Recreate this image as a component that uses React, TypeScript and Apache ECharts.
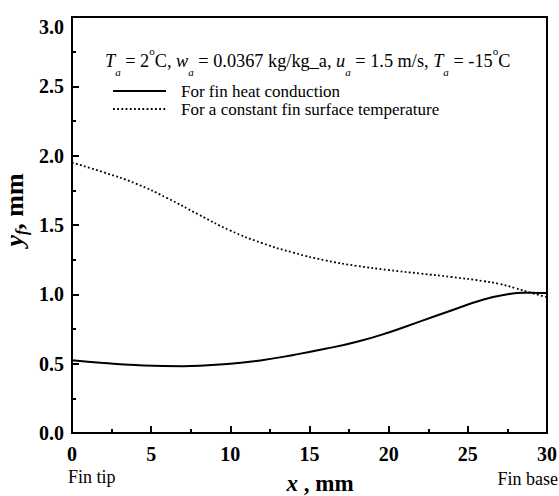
import React, { useEffect, useRef } from "react";
import * as echarts from "echarts";

const SERIF = "Liberation Serif";

const seriesNames = ["For fin heat conduction", "For a constant fin surface temperature"];

const finHeatX = [0, 2, 4, 7, 10, 12, 14, 16, 18, 20, 22, 24, 26, 27.5, 28.5, 29.5, 30];
const finHeatY = [0.525, 0.505, 0.49, 0.482, 0.5, 0.525, 0.563, 0.607, 0.658, 0.725, 0.805, 0.885, 0.963, 1.0, 1.012, 1.01, 1.01];

const constTempX = [0, 2, 4, 6, 8, 10, 12, 14, 16, 18, 20, 22, 24, 26, 27, 28, 29, 30];
const constTempY = [1.95, 1.88, 1.8, 1.695, 1.575, 1.46, 1.37, 1.3, 1.245, 1.205, 1.175, 1.15, 1.125, 1.095, 1.075, 1.045, 1.01, 0.98];

const xMin = 0, xMax = 30, xStep = 5;
const yMin = 0, yMax = 3, yStep = 0.5;

const annotationRich =
  "{ti|T}{sub|a}{n| = 2}{sup|o}{n|C, }{ti|w}{sub|a}{n| = 0.0367 kg/kg_a, }{ti|u}{sub|a}{n| = 1.5 m/s, }{ti|T}{sub|a}{n| = -15}{sup|o}{n|C}";

export default function App() {
  const ref = useRef<HTMLDivElement>(null);
  useEffect(() => {
    if (!ref.current) return;
    const chart = echarts.init(ref.current, null, { renderer: "svg" });
    const zip = (xs: number[], ys: number[]) => xs.map((x, i) => [x, ys[i]]);
    const axisLabelStyle = { fontFamily: SERIF, fontWeight: "bold" as const, fontSize: 20, color: "#000" };
    chart.setOption({
      animation: false,
      backgroundColor: "#fff",
      textStyle: { fontFamily: SERIF },
      grid: { left: 72, right: 12, top: 17, bottom: 63, show: true, borderColor: "#000", borderWidth: 2, outerBoundsMode: "none" },
      legend: {
        left: 107,
        top: 77,
        orient: "vertical",
        itemWidth: 53,
        itemHeight: 14,
        itemGap: 0,
        data: seriesNames,
        itemStyle: { opacity: 0 },
        textStyle: { fontFamily: SERIF, fontSize: 17, lineHeight: 18, color: "#000", padding: [0, 0, 0, 10] },
      },
      xAxis: {
        type: "value",
        min: xMin,
        max: xMax,
        interval: xStep,
        axisLine: { show: true, lineStyle: { color: "#000", width: 2 } },
        axisTick: { show: true, inside: true, length: 7, lineStyle: { color: "#000", width: 2 } },
        minorTick: { show: true, splitNumber: 2, length: 4, lineStyle: { color: "#000", width: 2 } },
        splitLine: { show: false },
        axisLabel: { ...axisLabelStyle, margin: 11 },
      },
      yAxis: {
        type: "value",
        min: yMin,
        max: yMax,
        interval: yStep,
        axisLine: { show: true, lineStyle: { color: "#000", width: 2 } },
        axisTick: { show: true, inside: true, length: 7, lineStyle: { color: "#000", width: 2 } },
        minorTick: { show: true, splitNumber: 2, length: 4, lineStyle: { color: "#000", width: 2 } },
        splitLine: { show: false },
        axisLabel: { ...axisLabelStyle, margin: 8, verticalAlignMaxLabel: "top", formatter: (v: number) => v.toFixed(1) },
      },
      series: [
        {
          type: "line",
          name: seriesNames[0],
          data: zip(finHeatX, finHeatY),
          smooth: 0.5,
          symbol: "none",
          itemStyle: { color: "#000" },
          lineStyle: { color: "#000", width: 2 },
        },
        {
          type: "line",
          name: seriesNames[1],
          data: zip(constTempX, constTempY),
          smooth: 0.5,
          symbol: "none",
          itemStyle: { color: "#000" },
          lineStyle: { color: "#000", width: 1.8, type: [1.8, 2.4] },
        },
      ],
      graphic: [
        {
          type: "text",
          x: 105,
          y: 61,
          style: {
            text: annotationRich,
            verticalAlign: "middle",
            align: "left",
            fill: "#000",
            rich: {
              ti: { fontFamily: SERIF, fontStyle: "italic", fontSize: 18.3, lineHeight: 32, verticalAlign: "middle", fill: "#000" },
              n: { fontFamily: SERIF, fontSize: 18.3, lineHeight: 32, verticalAlign: "middle", fill: "#000" },
              sub: { fontFamily: SERIF, fontStyle: "italic", fontSize: 11, lineHeight: 10, verticalAlign: "bottom", fill: "#000" },
              sup: { fontFamily: SERIF, fontSize: 11, lineHeight: 18, verticalAlign: "top", fill: "#000" },
            },
          },
        },
        {
          type: "text",
          x: 14,
          y: 210,
          rotation: Math.PI / 2,
          style: {
            text: "{yi|y}{sub|f}{n|, mm}",
            align: "center",
            verticalAlign: "middle",
            fill: "#000",
            rich: {
              yi: { fontFamily: SERIF, fontStyle: "italic", fontWeight: "bold", fontSize: 26, lineHeight: 30, verticalAlign: "middle", fill: "#000" },
              sub: { fontFamily: SERIF, fontStyle: "italic", fontWeight: "bold", fontSize: 16, lineHeight: 14, verticalAlign: "bottom", fill: "#000" },
              n: { fontFamily: SERIF, fontWeight: "bold", fontSize: 26, lineHeight: 30, verticalAlign: "middle", fill: "#000" },
            },
          },
        },
        {
          type: "text",
          x: 320,
          y: 483,
          style: {
            text: "{xi|x}{n| , mm}",
            align: "center",
            verticalAlign: "middle",
            fill: "#000",
            rich: {
              xi: { fontFamily: SERIF, fontStyle: "italic", fontWeight: "bold", fontSize: 23, lineHeight: 24, fill: "#000" },
              n: { fontFamily: SERIF, fontWeight: "bold", fontSize: 23, lineHeight: 24, fill: "#000" },
            },
          },
        },
        {
          type: "text",
          x: 68,
          y: 477,
          style: { text: "Fin tip", align: "left", verticalAlign: "middle", fontFamily: SERIF, fontSize: 18, fill: "#000" },
        },
        {
          type: "text",
          x: 558,
          y: 479,
          style: { text: "Fin base", align: "right", verticalAlign: "middle", fontFamily: SERIF, fontSize: 18, fill: "#000" },
        },
      ],
    });
    return () => chart.dispose();
  }, []);
  return <div ref={ref} style={{ width: 559, height: 496, position: "absolute", left: 0, top: 0 }} />;
}
